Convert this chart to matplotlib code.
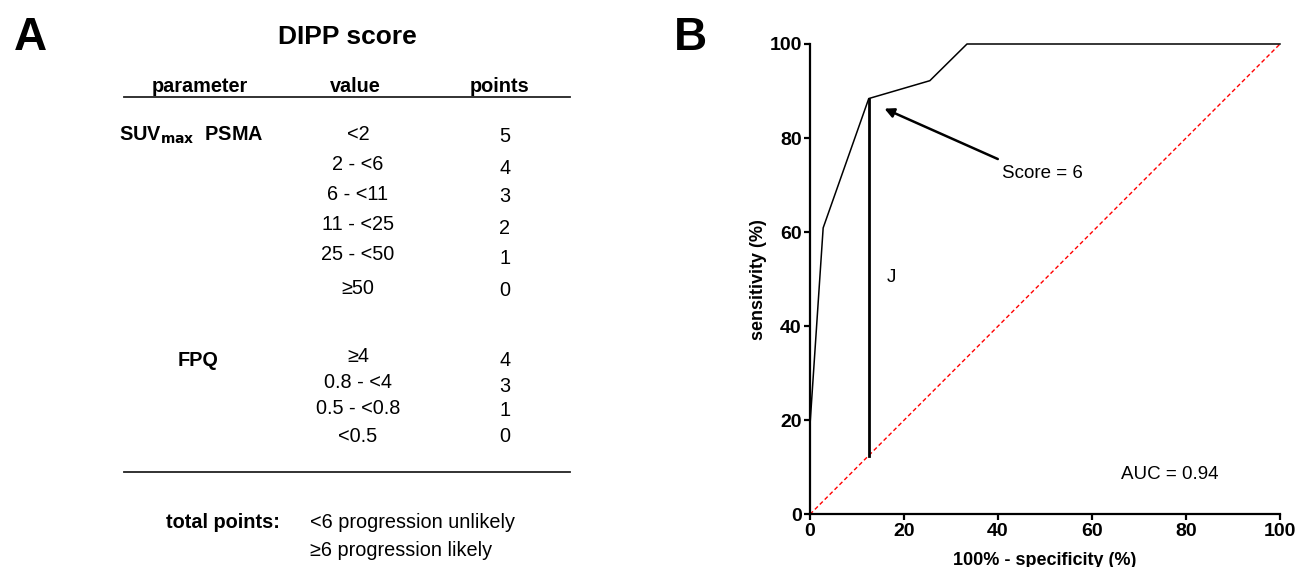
import matplotlib.pyplot as plt

plt.rcParams['font.family'] = ['Liberation Sans', 'DejaVu Sans']

# ROC curve (100% - specificity, sensitivity)
fpr = [0, 0, 2.8, 12.5, 25.5, 33.4, 100]
tpr = [0, 19, 60.9, 88.4, 92.2, 100, 100]
cut_x = 12.5
cut_y = 88.4
auc = 0.94

# DIPP score table
suv_values = ['<2', '2 - <6', '6 - <11', '11 - <25', '25 - <50', '\u226550']
suv_points = ['5', '4', '3', '2', '1', '0']
fpq_values = ['\u22654', '0.8 - <4', '0.5 - <0.8', '<0.5']
fpq_points = ['4', '3', '1', '0']

W, H = 1296, 567
fig = plt.figure(figsize=(W / 100, H / 100), dpi=100)
FS = 14.3


def px(x, y):
    return x / W, 1 - y / H


def t(x, y, s, **kw):
    fig.text(*px(x, y), s, **kw)


# ---- panel A ----
t(30, 38, 'A', fontsize=33, fontweight='bold', ha='center', va='center')
t(347, 37, 'DIPP score', fontsize=19, fontweight='bold', ha='center', va='center')
t(200, 87, 'parameter', fontsize=FS, fontweight='bold', ha='center', va='center')
t(355, 87, 'value', fontsize=FS, fontweight='bold', ha='center', va='center')
t(500, 87, 'points', fontsize=FS, fontweight='bold', ha='center', va='center')
fig.add_artist(plt.Line2D([124 / W, 570 / W], [1 - 97 / H, 1 - 97 / H], color='#222222', lw=1.3))

t(119, 135, r'SUV$_{\mathbf{max}}$  PSMA', fontsize=FS, fontweight='bold', ha='left', va='center')
val_y = [134, 164, 194, 225, 255, 288]
pts_y = [137, 168, 197, 228, 258, 290]
for v, p, yv, yp in zip(suv_values, suv_points, val_y, pts_y):
    t(358, yv, v, fontsize=FS, ha='center', va='center')
    t(505, yp, p, fontsize=FS, ha='center', va='center')

t(198, 361, 'FPQ', fontsize=FS, fontweight='bold', ha='center', va='center')
val_y = [357, 383, 409, 436]
pts_y = [361, 386, 411, 436]
for v, p, yv, yp in zip(fpq_values, fpq_points, val_y, pts_y):
    t(358, yv, v, fontsize=FS, ha='center', va='center')
    t(505, yp, p, fontsize=FS, ha='center', va='center')

fig.add_artist(plt.Line2D([124 / W, 570 / W], [1 - 472 / H, 1 - 472 / H], color='#222222', lw=1.3))
t(280, 523, 'total points:', fontsize=FS, fontweight='bold', ha='right', va='center')
t(310, 523, '<6 progression unlikely', fontsize=FS, ha='left', va='center')
t(310, 551, '\u22656 progression likely', fontsize=FS, ha='left', va='center')

# ---- panel B ----
t(690, 38, 'B', fontsize=33, fontweight='bold', ha='center', va='center')
ax = fig.add_axes([810 / W, (H - 514.3) / H, 470 / W, 470.3 / H])
ax.plot([0, 100], [0, 100], color='red', lw=1, ls=(0, (3, 2)), clip_on=False)
ax.plot(fpr, tpr, color='black', lw=1.1, clip_on=False)
ax.plot([cut_x, cut_x], [cut_x, cut_y], color='black', lw=2)
ax.annotate('', xy=(15.3, 86.5), xytext=(40.5, 75.3),
            arrowprops=dict(arrowstyle='-|>', color='black', lw=1.8, mutation_scale=14))
ax.text(40.8, 72.5, 'Score = 6', fontsize=13.5, va='center', ha='left')
ax.text(16.3, 50.3, 'J', fontsize=13.5, va='center', ha='left')
ax.text(66.2, 8.5, 'AUC = %.2f' % auc, fontsize=13.5, va='center', ha='left')

ax.set_xlim(0, 100)
ax.set_ylim(0, 100)
ax.set_xticks([0, 20, 40, 60, 80, 100])
ax.set_yticks([0, 20, 40, 60, 80, 100])
ax.spines['top'].set_visible(False)
ax.spines['right'].set_visible(False)
for s in ['left', 'bottom']:
    ax.spines[s].set_linewidth(1.6)
ax.tick_params(width=1.6, length=4, labelsize=14, pad=2)
for lab in ax.get_xticklabels() + ax.get_yticklabels():
    lab.set_fontweight('bold')
ax.set_xlabel('100% - specificity (%)', fontsize=13, fontweight='bold', labelpad=9)
ax.set_ylabel('sensitivity (%)', fontsize=13, fontweight='bold', labelpad=2)

fig.savefig('out.png', dpi=100)
